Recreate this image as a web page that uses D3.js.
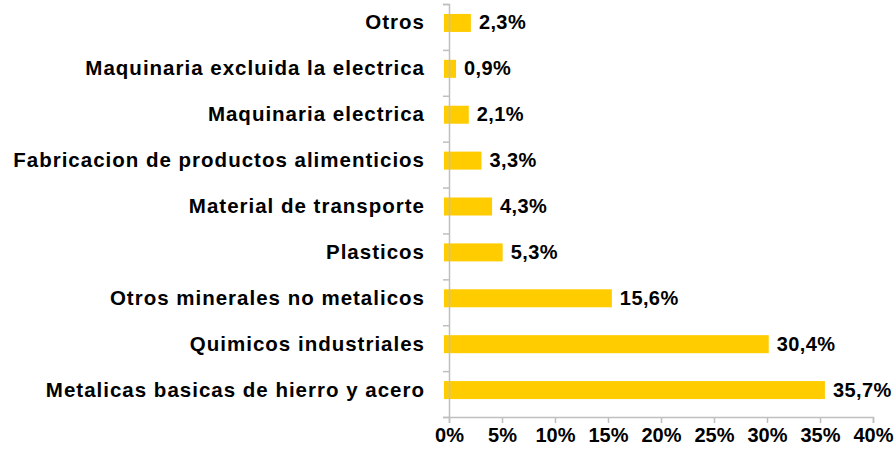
<!DOCTYPE html>
<html>
<head>
<meta charset="utf-8">
<script src="https://cdn.jsdelivr.net/npm/d3@7"></script>
<style>
  body { margin: 0; background: #fff; }
  svg text { font-family: "Liberation Sans", Arial, sans-serif; font-weight: 700; fill: #000; }
</style>
</head>
<body>
<div id="chart"></div>
<script>
const categories = [
  "Otros",
  "Maquinaria excluida la electrica",
  "Maquinaria electrica",
  "Fabricacion de productos alimenticios",
  "Material de transporte",
  "Plasticos",
  "Otros minerales no metalicos",
  "Quimicos industriales",
  "Metalicas basicas de hierro y acero"
];
const shares = [2.3, 0.9, 2.1, 3.3, 4.3, 5.3, 15.6, 30.4, 35.7];
const xTicks = [0, 5, 10, 15, 20, 25, 30, 35, 40];

const W = 895, H = 452;
const gold = "#FFCC00";
const axisGrey = "#BFBFBF";

const svg = d3.select("#chart")
  .append("svg")
  .attr("width", W)
  .attr("height", H);

const x = d3.scaleLinear().domain([0, 40]).range([449, 873]);
const y = d3.scaleBand().domain(categories).range([4, 417]);
const bw = y.bandwidth();

// bars (Excel draws them a little left of the axis)
svg.selectAll(".bar")
  .data(categories)
  .enter()
  .append("rect")
  .attr("class", "bar")
  .attr("x", x(0) - 5)
  .attr("y", (d) => y(d) + bw / 2 - 13)
  .attr("width", (d, i) => x(shares[i]) - x(0) + 2.5)
  .attr("height", 18)
  .attr("fill", gold);

// value labels
svg.selectAll(".val")
  .data(categories)
  .enter()
  .append("text")
  .attr("class", "val")
  .attr("x", (d, i) => x(shares[i]) + 5.5)
  .attr("y", (d) => y(d) + bw / 2 + 2.5)
  .attr("font-size", 20)
  .attr("letter-spacing", 0.4)
  .text((d, i) => shares[i].toFixed(1).replace(".", ",") + "%");

// category labels
svg.selectAll(".cat")
  .data(categories)
  .enter()
  .append("text")
  .attr("class", "cat")
  .attr("x", 425)
  .attr("y", (d) => y(d) + bw / 2 + 2.5)
  .attr("text-anchor", "end")
  .attr("font-size", 20.5)
  .attr("letter-spacing", 1)
  .text((d) => d);

// y axis: band boundary ticks
const yIdx = d3.scaleLinear().domain([0, categories.length]).range([4, 417]);
const yAxis = svg.append("g")
  .attr("transform", `translate(${x(0)},0)`)
  .call(d3.axisLeft(yIdx).tickValues(d3.range(categories.length + 1)).tickSize(6).tickFormat(""));

// x axis
const xAxis = svg.append("g")
  .attr("transform", "translate(0,417)")
  .call(d3.axisBottom(x).tickValues(xTicks).tickSize(6).tickPadding(5).tickFormat((d) => d + "%"));

[yAxis, xAxis].forEach((g) => {
  g.select(".domain").attr("stroke", axisGrey).attr("stroke-width", 1.5);
  g.selectAll(".tick line").attr("stroke", axisGrey).attr("stroke-width", 1.5);
});
xAxis.selectAll(".tick text")
  .attr("font-size", 20)
  .attr("font-family", "'Liberation Sans', Arial, sans-serif")
  .attr("font-weight", 700)
  .attr("fill", "#000");
</script>
</body>
</html>
